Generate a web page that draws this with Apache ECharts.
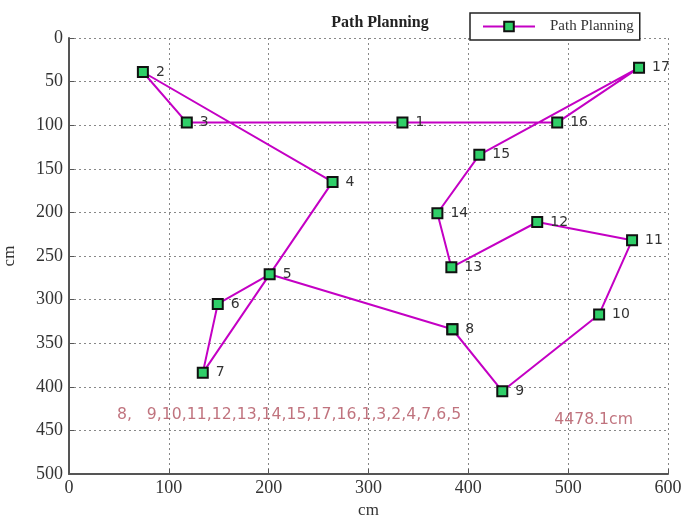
<!DOCTYPE html>
<html>
<head>
<meta charset="utf-8">
<script src="https://cdn.jsdelivr.net/npm/echarts@6/dist/echarts.min.js"></script>
<style>
html,body{margin:0;padding:0;background:#fff;}
#chart{width:684px;height:517px;}
</style>
</head>
<body>
<div id="chart"></div>
<script>
// Node coordinates (cm), node i is at index i-1
const nodeIds = [1,2,3,4,5,6,7,8,9,10,11,12,13,14,15,16,17];
const nodeX = [334, 74, 118, 264, 201, 149, 134, 384, 434, 531, 564, 469, 383, 369, 411, 489, 571];
const nodeY = [97, 39, 97, 165, 271, 305, 384, 334, 405, 317, 232, 211, 263, 201, 134, 97, 34];
// Visiting order of the planned route (closed loop)
const routeOrder = [8, 9, 10, 11, 12, 13, 14, 15, 17, 16, 1, 3, 2, 4, 7, 6, 5];
const routeText = '8,   9,10,11,12,13,14,15,17,16,1,3,2,4,7,6,5';
const lengthText = '4478.1cm';
const xTicks = {min: 0, max: 600, interval: 100};
const yTicks = {min: 0, max: 500, interval: 50};

const routeData = routeOrder.map(id => ({
  value: [nodeX[id - 1], nodeY[id - 1]],
  name: String(id)
}));
// close the loop back to the start (no duplicate label)
routeData.push({
  value: [nodeX[routeOrder[0] - 1], nodeY[routeOrder[0] - 1]],
  name: String(routeOrder[0]),
  label: {show: false}
});

const chart = echarts.init(document.getElementById('chart'), null, {renderer: 'canvas'});
const serif = '"Liberation Serif", "DejaVu Serif", serif';
const sans = '"DejaVu Sans", sans-serif';
const axisCol = '#555';

chart.setOption({
  animation: false,
  backgroundColor: '#fff',
  title: {
    text: 'Path Planning',
    left: 375,
    textAlign: 'center',
    top: 10,
    textStyle: {fontFamily: serif, fontSize: 16, fontWeight: 'bold', color: '#222'}
  },
  legend: {
    data: ['Path Planning'],
    left: 470,
    top: 13,
    orient: 'horizontal',
    backgroundColor: '#fff',
    borderColor: '#222',
    borderWidth: 1.5,
    borderRadius: 0,
    padding: [6, 6, 6, 12],
    itemWidth: 52,
    itemHeight: 12,
    textStyle: {fontFamily: serif, fontSize: 15, color: '#333', padding: [0, 0, 0, 10]}
  },
  grid: {left: 69, right: 16, top: 38, bottom: 43, containLabel: false, outerBoundsMode: 'none'},
  xAxis: {
    type: 'value',
    min: xTicks.min, max: xTicks.max, interval: xTicks.interval,
    name: 'cm',
    nameLocation: 'middle',
    nameGap: 28,
    nameTextStyle: {fontFamily: serif, fontSize: 17, color: '#333'},
    axisLine: {show: true, onZero: false, lineStyle: {color: axisCol, width: 2}},
    axisTick: {show: true, inside: true, length: 5, lineStyle: {color: axisCol}},
    axisLabel: {fontFamily: serif, fontSize: 18, color: '#333', margin: 5},
    splitLine: {show: true, lineStyle: {color: '#888', type: [2, 3], width: 1}}
  },
  yAxis: {
    type: 'value',
    inverse: true,
    min: yTicks.min, max: yTicks.max, interval: yTicks.interval,
    name: 'cm',
    nameLocation: 'middle',
    nameGap: 51,
    nameRotate: 90,
    nameTextStyle: {fontFamily: serif, fontSize: 17, color: '#333'},
    axisLine: {show: true, onZero: false, lineStyle: {color: axisCol, width: 2}},
    axisTick: {show: true, inside: true, length: 5, lineStyle: {color: axisCol}},
    axisLabel: {fontFamily: serif, fontSize: 18, color: '#333', margin: 6},
    splitLine: {show: true, lineStyle: {color: '#888', type: [2, 3], width: 1}}
  },
  series: [
    {
      name: 'Path Planning',
      type: 'line',
      data: routeData,
      showAllSymbol: true,
      symbol: 'rect',
      symbolSize: 10,
      lineStyle: {color: '#c400c4', width: 2},
      itemStyle: {color: '#2fcf68', borderColor: '#111', borderWidth: 2},
      label: {
        show: true,
        position: 'right',
        distance: 7,
        formatter: p => p.name,
        fontFamily: sans,
        fontSize: 14,
        color: '#333'
      },
      z: 3
    },
    {
      name: 'annotation',
      type: 'scatter',
      silent: true,
      symbolSize: 0,
      data: [
        {value: [48, 432], name: routeText},
        {value: [486, 438], name: lengthText}
      ],
      label: {
        show: true,
        position: 'right',
        distance: 0,
        formatter: p => p.name,
        fontFamily: sans,
        fontSize: 15.7,
        color: '#b0505e'
      },
      z: 2
    }
  ]
});
</script>
</body>
</html>
